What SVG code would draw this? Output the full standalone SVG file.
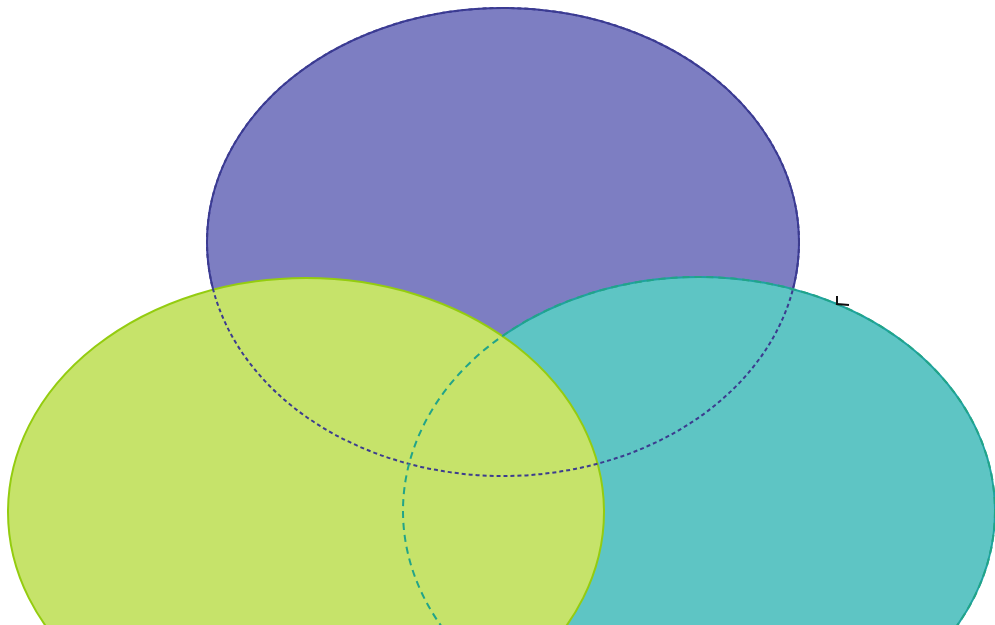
<svg xmlns="http://www.w3.org/2000/svg" width="995" height="625" viewBox="0 0 995 625">
<style>
.edge{fill:none;stroke-width:2}
</style>
<rect width="995" height="625" fill="#ffffff"/>
<g id="purple">
<ellipse cx="503" cy="242" rx="296" ry="234" fill="#7d7ec2" stroke="#3a3a98" stroke-width="2"/>
</g>
<g id="teal">
<ellipse cx="699" cy="511" rx="296" ry="234" fill="#5ec5c4" stroke="#1fa3a0" stroke-width="2"/>
</g>
<g id="green">
<ellipse cx="306" cy="512" rx="298" ry="234" fill="#c6e36a" stroke="#94cc10" stroke-width="2"/>
</g>
<g id="connectors">
<ellipse class="edge" cx="503" cy="242" rx="296" ry="234" stroke="#3c3c8e" stroke-dasharray="4 3"/>
<ellipse class="edge" cx="699" cy="511" rx="296" ry="234" stroke="#22a488" stroke-dasharray="7 5"/>
<path d="M837 296 L837 304 L849 305" fill="none" stroke="#111" stroke-width="2"/>
</g>
</svg>
